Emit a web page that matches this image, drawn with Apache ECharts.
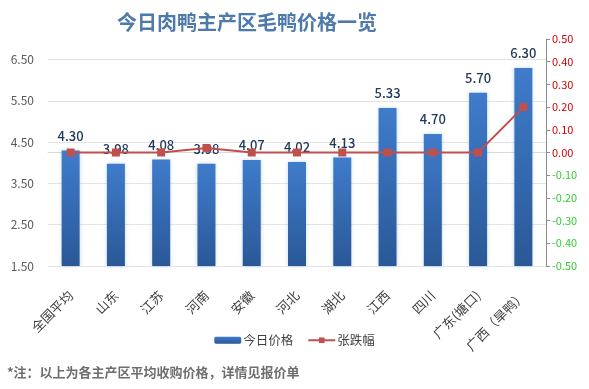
<!DOCTYPE html>
<html><head><meta charset="utf-8">
<script src="https://cdn.jsdelivr.net/npm/echarts@6/dist/echarts.min.js"></script>
<style>html,body{margin:0;padding:0;background:#fff}#c{width:589px;height:389px}</style>
</head><body><div id="c"></div>
<script>
const categories = ['全国平均','山东','江苏','河南','安徽','河北','湖北','江西','四川','广东(塘口)','广西（旱鸭）'];
const priceValues = [4.30, 3.98, 4.08, 3.98, 4.07, 4.02, 4.13, 5.33, 4.70, 5.70, 6.30];
const changeValues = [0.00, 0.00, 0.00, 0.02, 0.00, 0.00, 0.00, 0.00, 0.00, 0.00, 0.20];
const titleText = '今日肉鸭主产区毛鸭价格一览';
const noteText = '*注：以上为各主产区平均收购价格，详情见报价单';
const seriesNames = ['今日价格', '张跌幅'];

const font = '"Noto Sans CJK SC","Microsoft YaHei",sans-serif';
const chart = echarts.init(document.getElementById('c'));
chart.setOption({
  animation: false,
  textStyle: { fontFamily: font },
  title: {
    text: titleText, left: 242, top: 7, textAlign: 'center',
    textStyle: { fontSize: 20, fontWeight: 'bold', color: '#4d79ab', fontFamily: font }
  },
  graphic: [{
    type: 'text', left: 7, top: 366,
    style: { text: noteText, fontSize: 13, fontWeight: 'bold', fill: '#6e6e6e', fontFamily: font }
  }],
  legend: {
    data: seriesNames, left: 'center', top: 329, itemGap: 14,
    textStyle: { fontSize: 12.5, color: '#404040', padding: [0, 0, 0, -3] },
    itemWidth: 27, itemHeight: 7
  },
  grid: { left: 48, right: 43, top: 39, bottom: 123 },
  xAxis: {
    type: 'category', data: categories,
    axisLine: { lineStyle: { color: '#d9d9d9' } },
    axisTick: { show: false },
    axisLabel: { rotate: 45, interval: 0, fontSize: 13, color: '#404040', margin: 27 }
  },
  yAxis: [{
    type: 'value', min: 1.5, max: 7, interval: 1, position: 'left',
    axisLine: { show: false }, axisTick: { show: false },
    splitLine: { showMaxLine: false, lineStyle: { color: '#e3e3e3' } },
    axisLabel: { showMaxLabel: false, formatter: v => (v > 6.9 ? '' : v.toFixed(2)), color: '#595959', fontSize: 12, margin: 14 }
  }, {
    type: 'value', min: -0.5, max: 0.5, interval: 0.1, position: 'right',
    axisLine: { show: true, lineStyle: { color: '#8c8c8c' } },
    axisTick: { show: true, length: 4, lineStyle: { color: '#8c8c8c' } },
    splitLine: { show: false },
    axisLabel: {
      formatter: v => (Math.abs(v) < 1e-9 ? 0 : v).toFixed(2),
      color: v => (v < -1e-9 ? '#33cc33' : '#cc0000'),
      fontSize: 11, margin: 6
    }
  }],
  series: [{
    name: seriesNames[0], type: 'bar', data: priceValues, barWidth: 18, yAxisIndex: 0,
    itemStyle: {
      color: new echarts.graphic.LinearGradient(0, 0, 0, 1, [
        { offset: 0, color: '#3f7ccb' }, { offset: 1, color: '#2a5897' }
      ]),
      shadowColor: 'rgba(80,140,220,0.35)', shadowBlur: 4
    },
    label: {
      show: true, position: 'top', distance: 8,
      formatter: p => p.value.toFixed(2),
      fontSize: 13, color: '#22395a', fontWeight: 500
    }
  }, {
    name: seriesNames[1], type: 'line', data: changeValues, yAxisIndex: 1,
    symbol: 'rect', symbolSize: 8,
    lineStyle: { color: '#c0504d', width: 2 },
    itemStyle: { color: '#c0504d' }
  }]
});
</script></body></html>
